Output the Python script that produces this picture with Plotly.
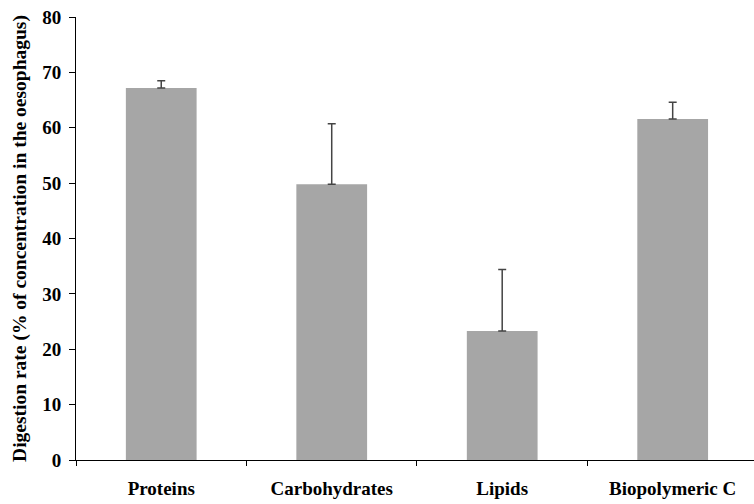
import plotly.graph_objects as go

categories = ["Proteins", "Carbohydrates", "Lipids", "Biopolymeric C"]
values = [67.2, 49.8, 23.3, 61.6]
errors_plus = [1.3, 10.9, 11.1, 3.0]
y_ticks = [0, 10, 20, 30, 40, 50, 60, 70, 80]

FONT = "Liberation Serif"

fig = go.Figure(go.Bar(
    x=categories,
    y=values,
    marker=dict(color="#a6a6a6", line=dict(width=0)),
    error_y=dict(type="data", symmetric=False, array=errors_plus,
                 arrayminus=[0] * len(values),
                 color="#444444", thickness=1.5, width=4),
    width=0.415,
))

fig.update_layout(
    width=754, height=504,
    margin=dict(l=76, r=0, t=17, b=44, autoexpand=False),
    paper_bgcolor="white", plot_bgcolor="white",
    showlegend=False,
    font=dict(family=FONT, color="black"),
    xaxis=dict(
        type="category",
        range=[-0.5, 3.477],
        showline=True, linecolor="black", linewidth=1,
        ticks="outside", tickson="boundaries", ticklen=5, tickcolor="black",
        tickfont=dict(family=FONT, size=19, color="black", weight="bold"),
        ticklabelstandoff=11,
        showgrid=False, zeroline=False, automargin=False,
    ),
    yaxis=dict(
        range=[0, 80],
        tickvals=y_ticks,
        showline=True, linecolor="black", linewidth=1,
        ticks="outside", ticklen=6, tickcolor="black",
        tickfont=dict(family=FONT, size=19, color="black", weight="bold"),
        ticklabelstandoff=4,
        showgrid=False, zeroline=False, automargin=False,
        title=dict(text="Digestion rate (% of concentration in the oesophagus)",
                   font=dict(family=FONT, size=19.5, color="black", weight="bold"),
                   standoff=10),
    ),
)

fig.write_html("out.html", config={"displayModeBar": False},
               post_script="document.body.style.margin='0';")
